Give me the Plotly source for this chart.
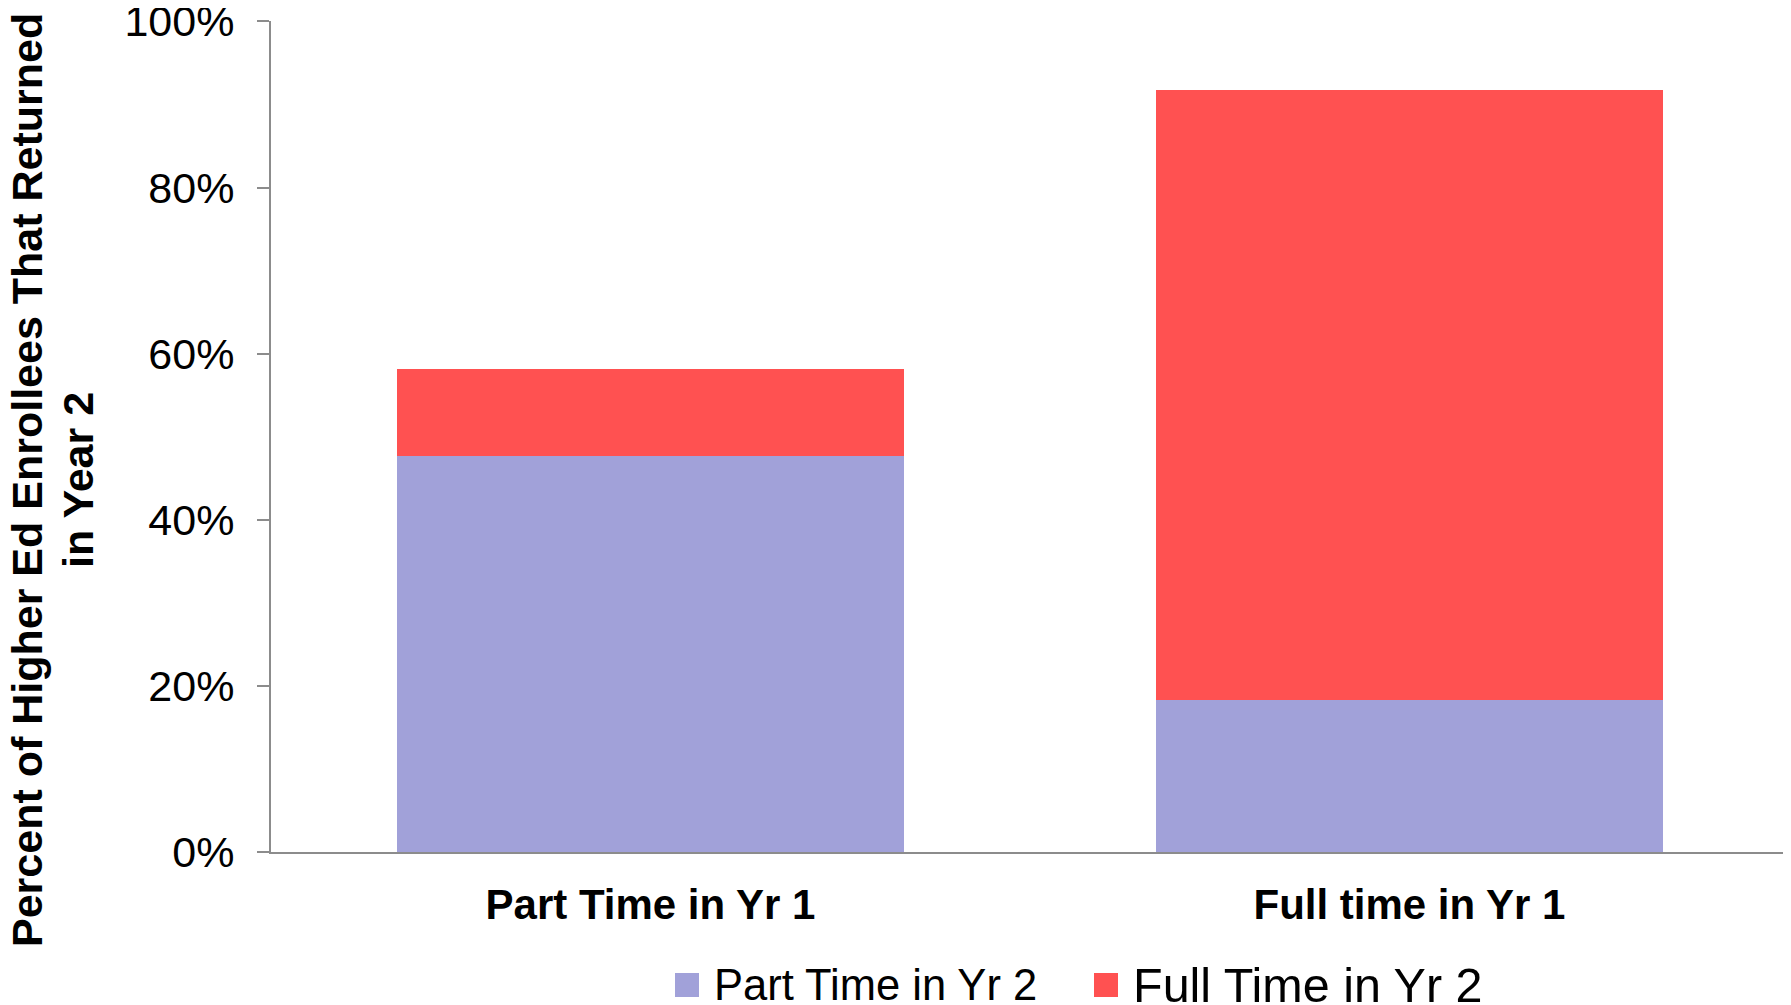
import plotly.graph_objects as go

# data
categories = ["Part Time in Yr 1", "Full time in Yr 1"]
part_time_yr2 = [0.477, 0.183]
full_time_yr2 = [0.104, 0.735]
series_names = ["Part Time in Yr 2", "Full Time in Yr 2"]
tick_vals = [0, 0.2, 0.4, 0.6, 0.8, 1.0]
tick_text = ["0%", "20%", "40%", "60%", "80%", "100%"]

purple = "#A1A1D9"
red = "#FF5151"
axis_grey = "#8C8C8C"
font_family = "Liberation Sans, Arial, sans-serif"

# the page body has an 8px margin, so the figure is a bit smaller than the window
OFF = 8
W, H = 1791 - OFF, 1005 - OFF
L, R, T, B = 271 - OFF, 2, 21 - OFF, 153
plot_w = W - L - R
plot_h = H - T - B


def px_to_paper(xp, yp):
    # window pixel position -> paper coordinates
    xp -= OFF
    yp -= OFF
    return (xp - L) / plot_w, (H - B - yp) / plot_h


fig = go.Figure()

fig.add_trace(go.Bar(x=categories, y=part_time_yr2, name=series_names[0],
                     marker=dict(color=purple, line=dict(width=0)), showlegend=False))
fig.add_trace(go.Bar(x=categories, y=full_time_yr2, name=series_names[1],
                     marker=dict(color=red, line=dict(width=0)), showlegend=False))

# hand-made legend: squares + labels below the plot
shapes = []
annotations = []
legend_items = [(series_names[0], purple, 675, 712, 43.5),
                (series_names[1], red, 1094, 1131, 48.5)]
legend_y = 985
for name, col, sq_x, txt_x, fsize in legend_items:
    x0, y0 = px_to_paper(sq_x, legend_y + 12)
    x1, y1 = px_to_paper(sq_x + 24, legend_y - 12)
    shapes.append(dict(type="rect", xref="paper", yref="paper", x0=x0, x1=x1, y0=y0, y1=y1,
                       fillcolor=col, line=dict(width=0)))
    tx, ty = px_to_paper(txt_x, legend_y)
    annotations.append(dict(text=name, xref="paper", yref="paper", x=tx, y=ty,
                            xanchor="left", yanchor="middle", showarrow=False,
                            font=dict(family=font_family, size=fsize, color="black")))

# rotated y title, two lines placed separately
for line, xc in [("Percent of Higher Ed Enrollees That Returned", 27), ("in Year 2", 78)]:
    tx, ty = px_to_paper(xc, 480)
    annotations.append(dict(text=line, textangle=-90, xref="paper", yref="paper", x=tx, y=ty,
                            xanchor="center", yanchor="middle", showarrow=False,
                            font=dict(family=font_family, size=43, color="black", weight="bold")))

fig.update_layout(
    width=W, height=H,
    barmode="stack", bargap=0.333,
    plot_bgcolor="white", paper_bgcolor="white",
    margin=dict(l=L, r=R, t=T, b=B, autoexpand=False),
    font=dict(family=font_family, color="black", size=40),
    showlegend=False,
    xaxis=dict(showline=True, linecolor=axis_grey, linewidth=2, ticks="",
               automargin=False, ticklabelstandoff=15,
               tickfont=dict(family=font_family, size=42, color="black", weight="bold"),
               showgrid=False),
    yaxis=dict(range=[0, 1.0005], tickvals=tick_vals, ticktext=tick_text,
               showline=True, linecolor=axis_grey, linewidth=2, automargin=False,
               ticks="outside", ticklen=12, tickcolor=axis_grey, tickwidth=2,
               showgrid=False, zeroline=False, ticklabelstandoff=14,
               ticklabeloverflow="allow",
               tickfont=dict(family=font_family, size=43, color="black")),
    shapes=shapes,
    annotations=annotations,
)

fig.write_html("out.html")
